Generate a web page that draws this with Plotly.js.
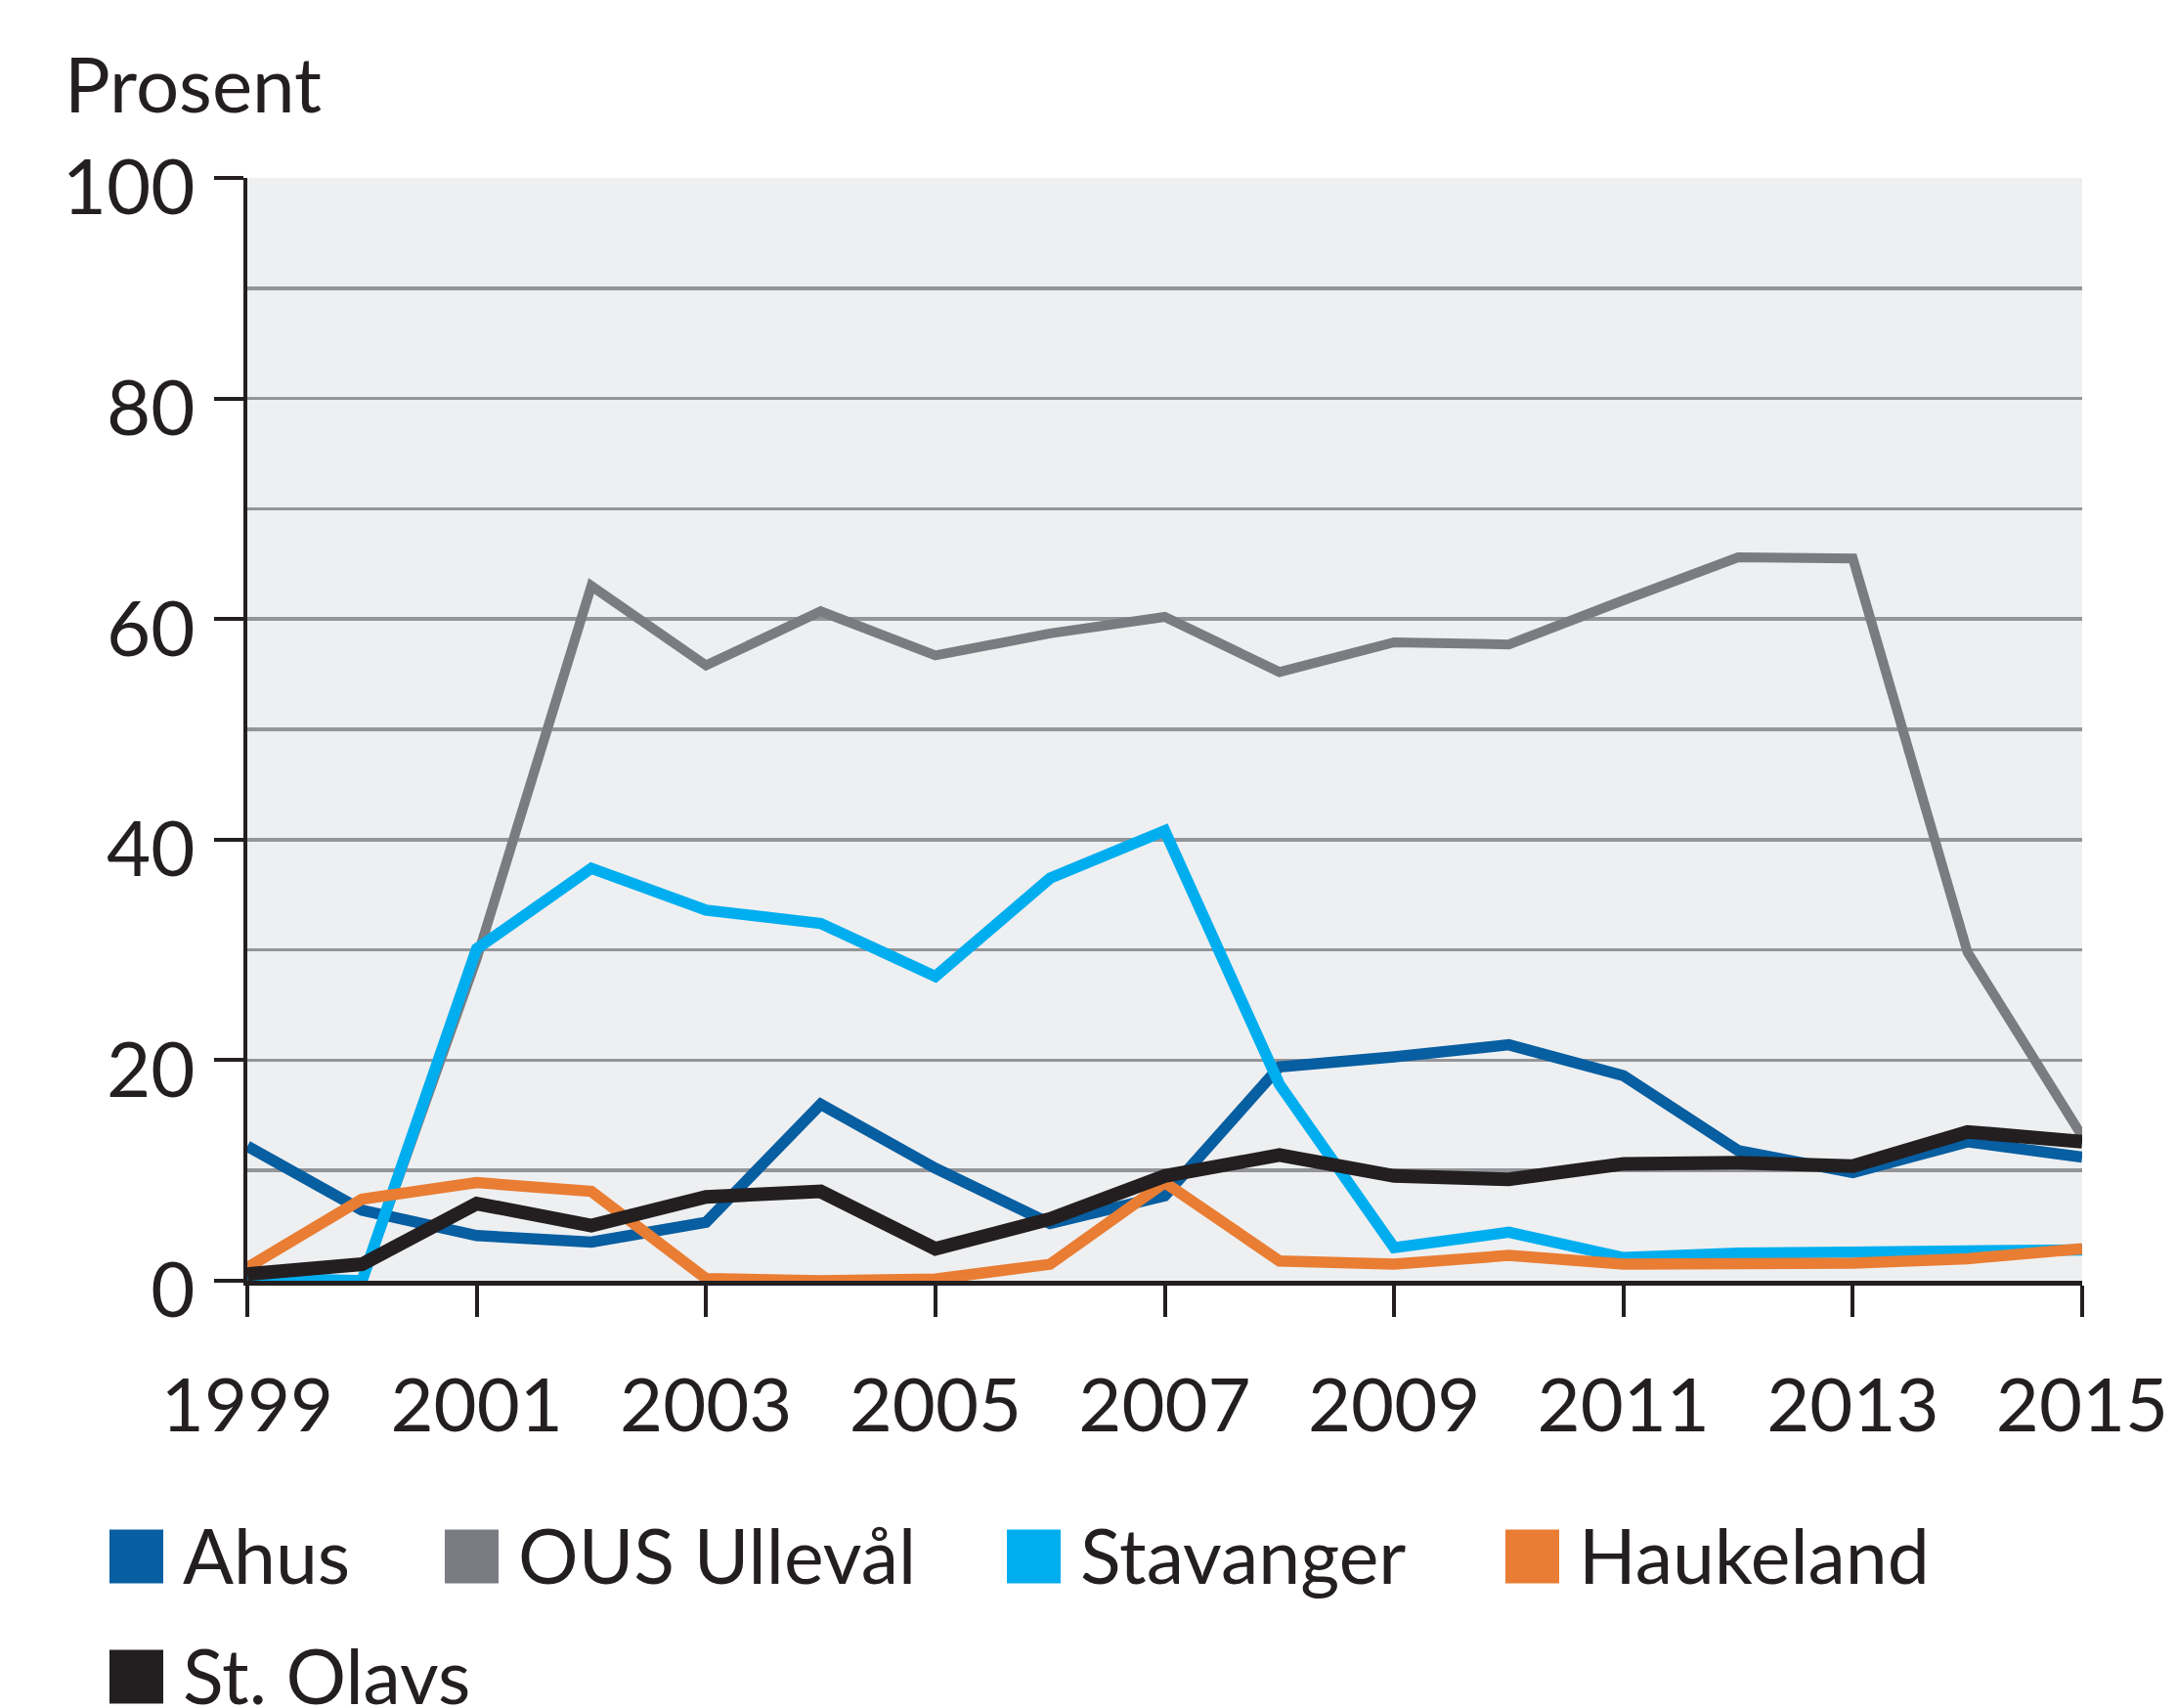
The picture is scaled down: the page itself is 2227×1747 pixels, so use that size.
<!DOCTYPE html>
<html>
<head>
<meta charset="utf-8">
<script src="https://cdn.plot.ly/plotly-3.0.1.min.js"></script>
<style>
  html, body { margin: 0; padding: 0; background: #ffffff; }
  #chart { width: 2227px; height: 1747px; }
</style>
</head>
<body>
<div id="chart"></div>
<script>
// ---- Data ----
var years = [1999, 2000, 2001, 2002, 2003, 2004, 2005, 2006, 2007, 2008, 2009, 2010, 2011, 2012, 2013, 2014, 2015];
var seriesNames = ["Ahus", "OUS Ullevål", "Stavanger", "Haukeland", "St. Olavs"];
var ahus       = [12.2, 6.4, 4.1, 3.5, 5.3, 16.0, 10.2, 5.2, 7.7, 19.4, 20.3, 21.4, 18.6, 11.8, 9.8, 12.6, 11.2];
var ousUlleval = [0.1, 0.0, 29.2, 63.0, 55.8, 60.7, 56.7, 58.7, 60.2, 55.2, 57.9, 57.7, 61.7, 65.6, 65.5, 29.8, 13.1];
var stavanger  = [0.3, 0.0, 30.1, 37.4, 33.6, 32.4, 27.6, 36.5, 40.8, 17.8, 3.0, 4.4, 2.1, 2.5, 2.6, 2.7, 2.8];
var haukeland  = [1.2, 7.4, 8.9, 8.1, 0.2, 0.0, 0.15, 1.5, 8.9, 1.8, 1.5, 2.3, 1.5, 1.6, 1.6, 2.0, 2.9];
var stOlavs    = [0.6, 1.5, 7.0, 5.0, 7.6, 8.1, 2.9, 5.6, 9.5, 11.4, 9.5, 9.2, 10.6, 10.7, 10.4, 13.5, 12.6];
var xTickVals = [1999, 2001, 2003, 2005, 2007, 2009, 2011, 2013, 2015];
var yTickVals = [0, 20, 40, 60, 80, 100];
var yTitle = "Prosent";

// ---- Styling ----
var colors = ["#075EA1", "#7B7C81", "#00AEEF", "#E97D33", "#231F20"];
var widths = [11.5, 10, 11.5, 11.5, 14];
var values = [ahus, ousUlleval, stavanger, haukeland, stOlavs];
var FONT = "Lato, 'Open Sans', sans-serif";
var TXT = "#231F20";

// Plot area in pixels
var W = 2227, H = 1747;
var L = 253, R = 2130, T = 182, B = 1310;
function px2paperX(px) { return (px - L) / (R - L); }
function px2paperY(py) { return (B - py) / (B - T); }

// Drawing order (bottom to top)
var order = [1, 0, 2, 3, 4];
var traces = order.map(function (i) {
  return {
    x: years,
    y: values[i],
    name: seriesNames[i],
    type: "scatter",
    mode: "lines",
    line: { color: colors[i], width: widths[i] },
    showlegend: false,
    hoverinfo: "skip"
  };
});

// Manual legend (square swatches + text)
var legendX = [112, 455, 1030, 1540, 112];
var legendY = [1592, 1592, 1592, 1592, 1715];
var sw = 55;
var shapes = [];
var annotations = [];
seriesNames.forEach(function (name, i) {
  shapes.push({
    type: "rect", xref: "paper", yref: "paper", layer: "above",
    x0: px2paperX(legendX[i]), x1: px2paperX(legendX[i] + sw),
    y0: px2paperY(legendY[i] + sw / 2), y1: px2paperY(legendY[i] - sw / 2),
    fillcolor: colors[i], line: { width: 0 }
  });
  annotations.push({
    text: name, xref: "paper", yref: "paper", showarrow: false,
    x: px2paperX(legendX[i] + sw + 18), xanchor: "left",
    y: px2paperY(legendY[i] - 2), yanchor: "middle",
    font: { family: FONT, size: 77, color: TXT }
  });
});

var layout = {
  width: W, height: H,
  margin: { l: L, r: W - R, t: T, b: H - B, pad: 0 },
  paper_bgcolor: "#ffffff",
  plot_bgcolor: "#EEEFF1",
  showlegend: false,
  title: {
    text: yTitle,
    xref: "container", yref: "container",
    x: 66 / W, xanchor: "left",
    y: 1 - 88 / H, yanchor: "middle",
    font: { family: FONT, size: 78, color: TXT }
  },
  xaxis: {
    range: [1999, 2015],
    tickvals: xTickVals,
    ticktext: xTickVals.map(String),
    ticks: "outside", ticklen: 32, tickwidth: 4, tickcolor: TXT,
    showline: true, linecolor: TXT, linewidth: 5,
    showgrid: false, zeroline: false,
    ticklabelstandoff: 26,
    tickfont: { family: FONT, size: 76, color: TXT },
    fixedrange: true
  },
  yaxis: {
    range: [0, 100],
    tickvals: yTickVals,
    ticks: "outside", ticklen: 30, tickwidth: 4, tickcolor: TXT,
    showline: true, linecolor: TXT, linewidth: 4,
    showgrid: true, gridcolor: "#949599", gridwidth: 3.5,
    minor: { dtick: 10, tick0: 0, showgrid: true, gridcolor: "#949599", gridwidth: 3.5, ticks: "" },
    zeroline: false,
    ticklabelstandoff: 4,
    ticklabelshift: 10,
    tickfont: { family: FONT, size: 78, color: TXT },
    fixedrange: true
  },
  shapes: shapes,
  annotations: annotations
};

Plotly.newPlot("chart", traces, layout, { staticPlot: true, displayModeBar: false });
</script>
</body>
</html>
